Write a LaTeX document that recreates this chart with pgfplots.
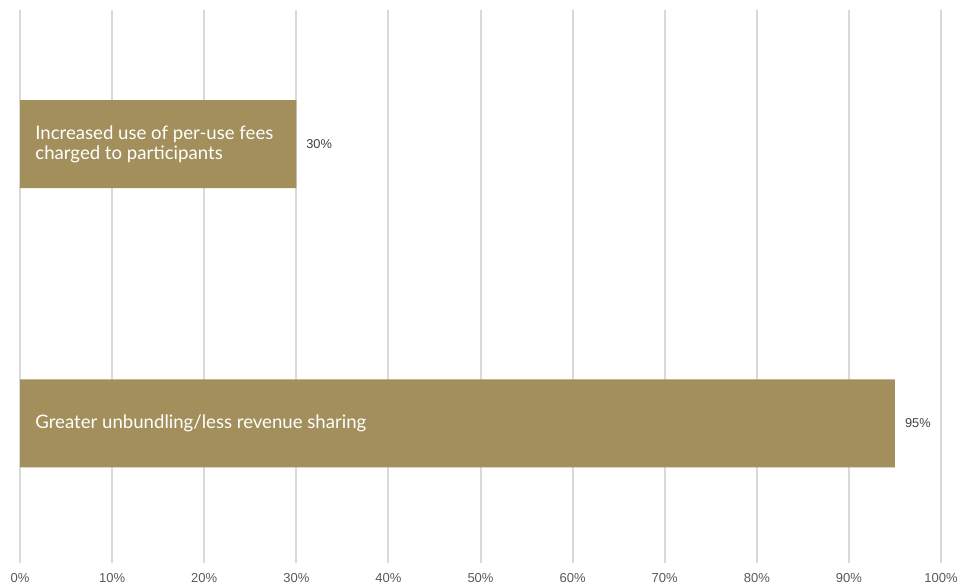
\documentclass[border=0pt]{standalone}
\usepackage{pgfplots}
\pgfplotsset{compat=1.18}
\usepackage{fontspec}
\setmainfont{Liberation Sans}
\newfontfamily\barfont{Lato}
\definecolor{barc}{HTML}{A38F5C}
\definecolor{gridc}{HTML}{D9D9D9}
\definecolor{tickc}{HTML}{595959}
\definecolor{valc}{HTML}{404040}
\begin{document}
\begin{tikzpicture}
\begin{axis}[
 at={(0,0)}, anchor=south west,
 scale only axis, width=460.5pt, height=276.5pt,
 xmin=0, xmax=100, ymin=-0.5, ymax=1.48,
 xbar, bar width=44pt,
 axis line style={draw=none},
 xtick={0,10,...,100},
 xticklabel={\pgfmathprintnumber{\tick}\%},
 /pgf/number format/assume math mode=true,
 ytick=\empty,
 xmajorgrids, grid style={gridc, line width=1pt},
 major tick length=0pt,
 tick label style={font=\fontsize{6.5}{7.5}\selectfont, text=tickc},
 xticklabel style={yshift=-1.8pt},
 nodes near coords={\pgfmathprintnumber{\pgfplotspointmeta}\%},
 nodes near coords style={font=\fontsize{6.4}{7.4}\selectfont, text=valc, xshift=1.5pt},
 point meta=x,
 clip=false,
]
\addplot[fill=barc, draw=none] coordinates {(30,1) (95,0)};
\node[anchor=west, text=white, font=\barfont\fontsize{9.3}{10.2}\selectfont, align=left, inner sep=0pt, xshift=7.5pt] at (axis cs:0,1) {Increased use of per-use fees\\charged to participants};
\node[anchor=west, text=white, font=\barfont\fontsize{9.3}{10.2}\selectfont, align=left, inner sep=0pt, xshift=7.5pt] at (axis cs:0,0) {Greater unbundling/less revenue sharing};
\end{axis}
\pgfresetboundingbox
\useasboundingbox (-10pt,-10.5pt) rectangle (470.5pt,281.5pt);
\end{tikzpicture}
\end{document}
